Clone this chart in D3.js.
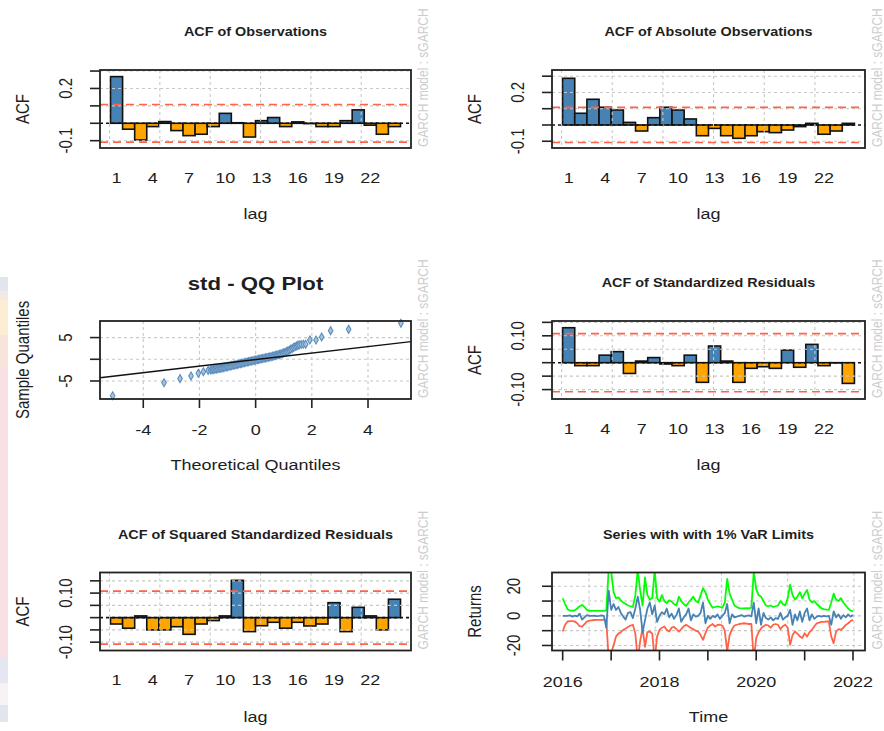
<!DOCTYPE html>
<html>
<head>
<meta charset="utf-8">
<script src="https://cdn.jsdelivr.net/npm/d3@7"></script>
<style>
  body { margin: 0; background: #ffffff; }
  svg { display: block; }
  text { font-family: "Liberation Sans", Arial, Helvetica, sans-serif; }
</style>
</head>
<body>
<svg id="chart" width="884" height="731"></svg>
<script>
// ---------------- data ----------------
const lags = d3.range(1, 25);
const lagLabels = [1, 4, 7, 10, 13, 16, 19, 22];
const confLimit = 0.108;

const acfObservations = [0.268, -0.034, -0.096, -0.019, 0.010, -0.042, -0.071, -0.063, -0.019, 0.057,
  0.003, -0.079, 0.015, 0.033, -0.019, 0.008, -0.002, -0.019, -0.019, 0.015, 0.077, -0.011, -0.063, -0.019];
const acfAbsObservations = [0.287, 0.072, 0.158, 0.109, 0.092, 0.016, -0.037, 0.045, 0.109, 0.092,
  0.037, -0.066, -0.021, -0.066, -0.082, -0.066, -0.041, -0.047, -0.031, -0.010, 0.010, -0.057, -0.037, 0.010];
const acfStdResiduals = [0.130, -0.011, -0.011, 0.028, 0.041, -0.040, 0.006, 0.019, -0.005, -0.011,
  0.028, -0.073, 0.062, 0.006, -0.073, -0.021, -0.015, -0.021, 0.047, -0.017, 0.068, -0.011, -0.001, -0.077];
const acfSqStdResiduals = [-0.026, -0.043, 0.007, -0.050, -0.050, -0.037, -0.068, -0.026, -0.012, 0.007,
  0.152, -0.057, -0.033, -0.019, -0.043, -0.019, -0.034, -0.026, 0.061, -0.057, 0.042, 0.007, -0.050, 0.075];

const acfTicksWide = [-0.1, 0, 0.1, 0.2, 0.3];
const acfTickLabelsWide = [{ v: -0.1, t: "-0.1" }, { v: 0.2, t: "0.2" }];
const acfTicksNarrow = [-0.10, -0.05, 0, 0.05, 0.10, 0.15];
const acfTickLabelsNarrow = [{ v: -0.10, t: "-0.10" }, { v: 0.10, t: "0.10" }];

// QQ plot: theoretical vs sample quantiles
const qqTheoretical = [-5.09, -3.26, -2.69, -2.30, -2.04, -1.86, -1.69,
  -1.60, -1.55, -1.50, -1.45, -1.40, -1.35, -1.30, -1.25, -1.20, -1.15, -1.10, -1.05, -1.00,
  -0.95, -0.90, -0.85, -0.80, -0.75, -0.70, -0.65, -0.60, -0.55, -0.50, -0.45, -0.40, -0.35,
  -0.30, -0.25, -0.20, -0.15, -0.10, -0.05, 0.00, 0.05, 0.10, 0.15, 0.20, 0.25, 0.30, 0.35,
  0.40, 0.45, 0.50, 0.55, 0.60, 0.65, 0.70, 0.75, 0.80, 0.85, 0.90, 0.95, 1.00, 1.05, 1.10,
  1.15, 1.20, 1.25, 1.30, 1.35, 1.40, 1.45, 1.50, 1.55, 1.62, 1.70, 1.78,
  1.93, 2.15, 2.35, 2.67, 3.31, 5.17];
const qqSample = [-8.40, -5.40, -4.45, -3.85, -3.23, -2.86, -2.55,
  -2.45, -2.40, -2.35, -2.29, -2.24, -2.18, -2.12, -2.06, -1.99, -1.92, -1.85, -1.77, -1.70,
  -1.62, -1.54, -1.46, -1.39, -1.31, -1.25, -1.17, -1.10, -1.02, -0.94, -0.85, -0.78, -0.70,
  -0.62, -0.54, -0.47, -0.40, -0.33, -0.25, -0.18, -0.11, -0.03, 0.04, 0.11, 0.18, 0.25, 0.32,
  0.39, 0.46, 0.54, 0.61, 0.69, 0.78, 0.86, 0.95, 1.04, 1.13, 1.24, 1.36, 1.48, 1.62, 1.77,
  1.93, 2.11, 2.30, 2.50, 2.70, 2.88, 3.05, 3.20, 3.33, 3.42, 3.45, 3.48,
  4.45, 4.45, 5.15, 6.60, 6.90, 8.30];
const qqLineIntercept = -0.08;
const qqLineSlope = 0.75;
const qqXTicks = [-4, -2, 0, 2, 4];
const qqYTicks = [-5, 0, 5];
const qqYTickLabels = [{ v: -5, t: "-5" }, { v: 5, t: "5" }];

// Returns with 1% VaR limits (sampled every 0.05 year from 2016.0)
const seriesStartYear = 2016;
const seriesStepYears = 0.05;
const returnsSeries = [
  0, 0, 0, 0.3, -0.5, 0.2, -0.3, 1.5, -2.5, -1.0,
  0.5, 0, 0, 0.2, -0.2, 0, 0.3, 0, -8, 17,
  4, 8, 4, 6, 2, -0.5, -2.5, 2, 2.5, -1.5,
  5, 13, 4, -11, -3, 5, 9, 1, 7, -4,
  0, 2.5, 1, 5, -1, 1.5, -2, 0.5, 5, -4,
  -1, 1, 5, -3, 1, -0.5, 0, 2, 9, -5,
  0, -2, 0, -1, 1, -2, 0, 2, 8, -5,
  1, -1, -0.5, 0, 0.5, -0.5, 0, 0.3, -0.3, 9,
  -5, 5, -6, 2, -1.5, -2.5, -1, -3, -1.5, -2,
  2, -2.5, -1, 0, 4, -6, 1, -3, 3, -4,
  2, 5, -3, 1, -2, -0.5, 0, -0.5, 0, -0.3,
  0, -6, 3, -1, 1, -2, 0.5, -1, 1, -0.5, 0.5];
const upperVaR = [
  11.9, 8.0, 4.5, 3.6, 3.6, 3.8, 5.0, 6.5, 7.4, 6.0,
  4.0, 3.4, 3.4, 3.4, 3.4, 3.4, 3.4, 3.4, 3.5, 32,
  30, 16, 11.9, 12.5, 10.5, 9.0, 8.0, 7.0, 6.5, 6.0,
  14, 31, 17, 7, 26, 14, 11, 12, 31, 12,
  9.5, 14, 10, 8.5, 10.5, 9.7, 8, 7, 13, 10,
  8, 6.7, 9, 11, 13, 10, 9, 14, 18.7, 16,
  11, 8, 5.5, 6.0, 6.5, 6.0, 5.5, 9, 25, 15,
  11, 7, 6, 5.2, 5.0, 5.0, 5.2, 5.0, 5.5, 30,
  18, 14, 13, 10, 7, 6.5, 7, 6, 6.5, 7,
  10, 8, 7, 12, 21, 14, 11, 13, 16, 12,
  15, 17.5, 11, 9, 10, 8, 6.5, 5.0, 4.5, 4.2,
  4.0, 9, 15, 11, 10, 12, 9, 7, 5, 3.5, 3.2];
const lowerVaR = [
  -10.6, -6, -3.8, -3.5, -3.5, -3.8, -5, -7, -7.2, -5.5,
  -3.8, -3.2, -3, -2.8, -2.7, -2.7, -2.7, -2.7, -3, -30,
  -25, -20, -14, -12, -11, -9.4, -8.5, -7.5, -6.5, -6,
  -12, -30, -17, -8.5, -21, -11, -10.6, -12, -30, -14,
  -9.5, -8, -7.2, -9.5, -10.6, -8, -7.5, -9, -10.6, -9,
  -7, -6.1, -7, -8.3, -9, -10, -10.6, -13, -16.2, -11.7,
  -8, -6.5, -5.5, -7.2, -6.1, -6, -6.5, -10, -24, -13,
  -9, -6.5, -6, -5.5, -5.2, -5, -5.2, -5.5, -5.5, -30,
  -15, -11, -8.5, -7, -6, -6.5, -8, -6, -5.5, -6,
  -9, -7, -6, -8, -19.6, -13, -10.6, -12, -13.9, -15,
  -11.7, -14, -11, -9.4, -7, -5, -4.5, -4, -4, -3.8,
  -3.8, -14, -18.4, -10.6, -9, -9.4, -8, -6.1, -5, -3.5, -2.7];
const yearTicks = [2016, 2017, 2018, 2019, 2020, 2021, 2022];
const yearLabels = [2016, 2018, 2020, 2022];
const returnTicks = [-20, -10, 0, 10, 20];
const returnTickLabels = [{ v: -20, t: "-20" }, { v: 0, t: "0" }, { v: 20, t: "20" }];
const gridDayNumbers = [17000, 17500, 18000, 18500, 19000];

// ---------------- layout & style ----------------
const SX = 1.2;                      // horizontal widening of all lettering
const colX = [100, 552];
const boxW = [311, 313];
const rowY = [70, 321, 572.5];
const boxH = 78;
const posColor = "#4682B4";
const negColor = "#FFA500";
const ciColor = "#FF6347";
const gridColor = "#c8c8c8";
const ink = "#1e1e1e";
const watermark = "GARCH model : sGARCH";

const svg = d3.select("#chart");

// faint backdrop strip on the far left edge
const strip = svg.append("g");
[[277, 291, "#e3e5ee"], [291, 300, "#f2e8e6"], [300, 335, "#fbeed2"], [335, 367, "#f9e4dc"],
 [367, 657, "#f9e0e3"], [657, 683, "#e5e7f0"], [683, 705, "#f7f3f5"], [705, 722, "#e3e5ee"]]
  .forEach(([y0, y1, c]) => strip.append("rect").attr("x", 0).attr("y", y0)
    .attr("width", 8).attr("height", y1 - y0).attr("fill", c));

function addText(g, x, y, str, o = {}) {
  const tr = `translate(${x},${y}) scale(${o.sx ?? SX},1)` + (o.rotate ? " rotate(-90)" : "");
  return g.append("text")
    .attr("transform", tr)
    .attr("text-anchor", o.anchor || "middle")
    .attr("dy", o.dy ?? "0.35em")
    .attr("fill", o.fill || ink)
    .style("font-size", (o.size || 15) + "px")
    .style("font-weight", o.weight || "normal")
    .text(str);
}

function frame(col, row) {
  return { x: colX[col], y: rowY[row], w: boxW[col], h: boxH };
}

function gridLines(g, box, xs, ys) {
  g.append("g").selectAll("line").data(xs).join("line")
    .attr("x1", d => d).attr("x2", d => d)
    .attr("y1", box.y).attr("y2", box.y + box.h)
    .attr("stroke", gridColor).attr("stroke-width", 1.1).attr("stroke-dasharray", "3,3");
  g.append("g").selectAll("line").data(ys).join("line")
    .attr("x1", box.x).attr("x2", box.x + box.w)
    .attr("y1", d => d).attr("y2", d => d)
    .attr("stroke", gridColor).attr("stroke-width", 1.1).attr("stroke-dasharray", "3,3");
}

function boxAndLabels(g, box, o) {
  g.append("rect").attr("x", box.x).attr("y", box.y).attr("width", box.w).attr("height", box.h)
    .attr("fill", "none").attr("stroke", "#222").attr("stroke-width", 1.8);
  addText(g, box.x + box.w / 2, box.y - (o.titleGap || 34), o.title,
    { size: o.titleSize || 12, weight: "bold", dy: 0 });
  addText(g, box.x + box.w / 2, box.y + box.h + 71, o.xTitle, { dy: 0 });
  addText(g, box.x - 77, box.y + box.h / 2, o.yTitle, { rotate: true });
  addText(g, box.x + box.w + 12, box.y + box.h - 1, watermark,
    { rotate: true, anchor: "start", size: 12, fill: "#cdcdcd" });
}

function yAxis(g, box, y, ticks, labels, labelGap) {
  g.append("g").selectAll("line").data(ticks).join("line")
    .attr("x1", box.x - 10).attr("x2", box.x)
    .attr("y1", d => y(d)).attr("y2", d => y(d))
    .attr("stroke", "#222").attr("stroke-width", 1.6);
  labels.forEach(l => addText(g, box.x - (labelGap || 34), y(l.v), l.t, { rotate: true }));
}

// ---------------- ACF bar panels ----------------
const barSpace = 0.2;
const barLeft = barSpace, barRight = lags.length * (1 + barSpace);
const barPad = 0.04 * (barRight - barLeft);
const barUnitDomain = [barLeft - barPad, barRight + barPad];
const barCenter = lag => barSpace + 0.5 + (lag - 1) * (1 + barSpace);

function drawAcf(box, values, yDomain, yTicks, yTickLabels, title) {
  const g = svg.append("g");
  const x = d3.scaleLinear().domain(barUnitDomain).range([box.x, box.x + box.w]);
  const y = d3.scaleLinear().domain(yDomain).range([box.y + box.h, box.y]);
  const half = (1 + barSpace) / 2;
  const rows = values.map((v, i) => ({ lag: lags[i], v }));

  g.append("g").selectAll("rect").data(rows).join("rect")
    .attr("x", d => x(barCenter(d.lag) - half))
    .attr("width", d => x(barCenter(d.lag) + half) - x(barCenter(d.lag) - half))
    .attr("y", d => y(Math.max(0, d.v)))
    .attr("height", d => Math.abs(y(d.v) - y(0)))
    .attr("fill", d => d.v >= 0 ? posColor : negColor)
    .attr("stroke", "#111").attr("stroke-width", 1.6);

  const xGrid = d3.range(0, barUnitDomain[1], 5).map(x);
  gridLines(g, box, xGrid, yTicks.filter(t => t !== 0).map(y));

  [confLimit, -confLimit].forEach(c => g.append("line")
    .attr("x1", box.x).attr("x2", box.x + box.w).attr("y1", y(c)).attr("y2", y(c))
    .attr("stroke", ciColor).attr("stroke-width", 1.6).attr("stroke-dasharray", "8,5"));
  g.append("line").attr("x1", box.x).attr("x2", box.x + box.w).attr("y1", y(0)).attr("y2", y(0))
    .attr("stroke", "#111").attr("stroke-width", 1.6).attr("stroke-dasharray", "3,3");

  yAxis(g, box, y, yTicks, yTickLabels);
  lagLabels.forEach(l => addText(g, x(barCenter(l)), box.y + box.h + 29.5, String(l)));
  boxAndLabels(g, box, { title, xTitle: "lag", yTitle: "ACF" });
}

drawAcf(frame(0, 0), acfObservations, [-0.142, 0.306], acfTicksWide, acfTickLabelsWide,
  "ACF of Observations");
drawAcf(frame(1, 0), acfAbsObservations, [-0.1415, 0.338], acfTicksWide, acfTickLabelsWide,
  "ACF of Absolute Observations");
drawAcf(frame(1, 1), acfStdResiduals, [-0.135, 0.155], acfTicksNarrow, acfTickLabelsNarrow,
  "ACF of Standardized Residuals");
drawAcf(frame(0, 2), acfSqStdResiduals, [-0.134, 0.184], acfTicksNarrow, acfTickLabelsNarrow,
  "ACF of Squared Standardized Residuals");

// ---------------- QQ plot ----------------
(function drawQQ() {
  const box = frame(0, 1);
  const g = svg.append("g");
  const x = d3.scaleLinear().domain([-5.54, 5.53]).range([box.x, box.x + box.w]);
  const y = d3.scaleLinear().domain([-9.15, 8.82]).range([box.y + box.h, box.y]);

  gridLines(g, box, qqXTicks.map(x), qqYTicks.map(y));

  const pts = qqTheoretical.map((t, i) => ({ t, s: qqSample[i] }));
  const diamond = d3.symbol().type(d3.symbolDiamond).size(18);
  g.append("g").selectAll("path").data(pts).join("path")
    .attr("d", diamond)
    .attr("transform", d => `translate(${x(d.t)},${y(d.s)})`)
    .attr("fill", "#a9c3dc").attr("stroke", "#5a8dbd").attr("stroke-width", 1.1);

  const [x0, x1] = x.domain();
  g.append("line")
    .attr("x1", x(x0)).attr("y1", y(qqLineIntercept + qqLineSlope * x0))
    .attr("x2", x(x1)).attr("y2", y(qqLineIntercept + qqLineSlope * x1))
    .attr("stroke", "#111").attr("stroke-width", 1.5);

  yAxis(g, box, y, qqYTicks, qqYTickLabels);
  g.append("g").selectAll("line").data(qqXTicks).join("line")
    .attr("x1", d => x(d)).attr("x2", d => x(d))
    .attr("y1", box.y + box.h).attr("y2", box.y + box.h + 9)
    .attr("stroke", "#222").attr("stroke-width", 1.6);
  qqXTicks.forEach(t => addText(g, x(t), box.y + box.h + 31, String(t)));

  boxAndLabels(g, box, {
    title: "std - QQ Plot", titleSize: 18.5, titleGap: 31,
    xTitle: "Theoretical Quantiles", yTitle: "Sample Quantiles"
  });
})();

// ---------------- returns with VaR limits ----------------
(function drawVaR() {
  const box = frame(1, 2);
  const g = svg.append("g");
  const yearToDate = yr => {
    const y0 = Math.floor(yr);
    const a = Date.UTC(y0, 0, 1), b = Date.UTC(y0 + 1, 0, 1);
    return new Date(a + (yr - y0) * (b - a));
  };
  const dates = returnsSeries.map((_, i) => yearToDate(seriesStartYear + i * seriesStepYears));
  const x = d3.scaleUtc().domain([yearToDate(2015.779), yearToDate(2022.248)])
    .range([box.x, box.x + box.w]);
  const y = d3.scaleLinear().domain([-23.4, 29.3]).range([box.y + box.h, box.y]);

  const gridX = gridDayNumbers.map(d => x(new Date(d * 864e5)));
  gridLines(g, box, gridX, returnTicks.map(y));

  const clipId = "varClip";
  svg.append("clipPath").attr("id", clipId).append("rect")
    .attr("x", box.x).attr("y", box.y).attr("width", box.w).attr("height", box.h);
  const line = d3.line().x((d, i) => x(dates[i])).y(d => y(d));
  const lines = g.append("g").attr("clip-path", `url(#${clipId})`);
  [[upperVaR, "#00FF00"], [lowerVaR, ciColor], [returnsSeries, posColor]].forEach(([s, c]) =>
    lines.append("path").attr("d", line(s)).attr("fill", "none")
      .attr("stroke", c).attr("stroke-width", 1.8).attr("stroke-linejoin", "round"));

  yAxis(g, box, y, returnTicks, returnTickLabels, 38);
  g.append("g").selectAll("line").data(yearTicks).join("line")
    .attr("x1", d => x(new Date(Date.UTC(d, 0, 1)))).attr("x2", d => x(new Date(Date.UTC(d, 0, 1))))
    .attr("y1", box.y + box.h).attr("y2", box.y + box.h + 10)
    .attr("stroke", "#222").attr("stroke-width", 1.6);
  yearLabels.forEach(yr => addText(g, x(new Date(Date.UTC(yr, 0, 1))), box.y + box.h + 31, String(yr)));

  boxAndLabels(g, box, { title: "Series with with 1% VaR Limits", xTitle: "Time", yTitle: "Returns" });
})();
</script>
</body>
</html>
